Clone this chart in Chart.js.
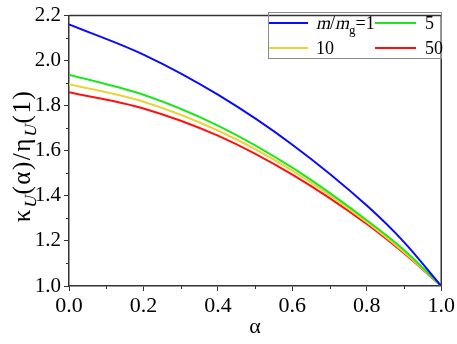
<!DOCTYPE html>
<html><head><meta charset="utf-8">
<script src="https://cdn.jsdelivr.net/npm/chart.js@4/dist/chart.umd.min.js"></script>
<style>html,body{margin:0;padding:0;background:#fff}canvas{display:block}</style>
</head><body>
<canvas id="c" width="457" height="344"></canvas>
<script>
const alphaValues = [0, 0.2, 0.4, 0.6, 0.8, 0.9, 1.0];
const seriesLabels = ['1', '5', '10', '50'];
const seriesColors = ['#0a0aff', '#1ee61e', '#ecd334', '#ff1010'];
const mOne  = [2.161, 2.027, 1.849, 1.627, 1.357, 1.195, 1.0];
const mFive = [1.938, 1.849, 1.712, 1.525, 1.292, 1.160, 1.0];
const mTen  = [1.896, 1.818, 1.690, 1.512, 1.283, 1.150, 1.0];
const mFifty= [1.860, 1.788, 1.667, 1.494, 1.275, 1.145, 1.0];
const xTicks = [0, 0.2, 0.4, 0.6, 0.8, 1.0];
const yTicks = [1.0, 1.2, 1.4, 1.6, 1.8, 2.0, 2.2];
const xMinor = [0.1, 0.3, 0.5, 0.7, 0.9];
const yMinor = [1.1, 1.3, 1.5, 1.7, 1.9, 2.1];

const allSeries = [mOne, mFive, mTen, mFifty];
const SERIF = '"Liberation Serif"';
const AXIS = '#333';

const datasets = allSeries.map((s, i) => ({
  label: seriesLabels[i],
  data: alphaValues.map((a, j) => ({x: a, y: s[j]})),
  borderColor: seriesColors[i],
  backgroundColor: seriesColors[i],
  borderWidth: 2,
  pointRadius: 0,
  cubicInterpolationMode: 'monotone',
  fill: false
}));

// draws runs of text; slanted runs are skewed to look italic
function drawRich(ctx, parts, x, y) {
  let cx = x;
  for (const p of parts) {
    ctx.font = p.font;
    const yy = y + (p.dy || 0);
    if (p.slant) {
      ctx.save();
      ctx.translate(cx, yy);
      ctx.transform(1, 0, -0.22, 1, 0, 0);
      ctx.fillText(p.t, 0, 0);
      ctx.restore();
    } else {
      ctx.fillText(p.t, cx, yy);
    }
    cx += ctx.measureText(p.t).width + (p.gap || 0);
  }
  return cx;
}
function richWidth(ctx, parts) {
  let w = 0;
  for (const p of parts) { ctx.font = p.font; w += ctx.measureText(p.t).width + (p.gap || 0); }
  return w;
}

const decor = {
  id: 'decor',
  afterDraw(chart) {
    const ctx = chart.ctx;
    const a = chart.chartArea;
    const xs = chart.scales.x, ys = chart.scales.y;
    ctx.save();
    ctx.strokeStyle = AXIS; ctx.lineWidth = 1.5;
    ctx.beginPath();
    ctx.moveTo(a.left, a.top); ctx.lineTo(a.right, a.top); ctx.lineTo(a.right, a.bottom);
    ctx.stroke();
    ctx.lineWidth = 1;
    ctx.beginPath();
    for (const v of xMinor) { const px = Math.round(xs.getPixelForValue(v)) + 0.5; ctx.moveTo(px, a.bottom); ctx.lineTo(px, a.bottom + 3); }
    for (const v of yMinor) { const py = Math.round(ys.getPixelForValue(v)) + 0.5; ctx.moveTo(a.left, py); ctx.lineTo(a.left - 3, py); }
    ctx.stroke();
    // legend
    ctx.strokeStyle = '#8a8a8a'; ctx.lineWidth = 1;
    ctx.strokeRect(268.5, 12.5, 173, 46);
    const rows = [23, 48];
    const cols = [[269, 308, 316], [375, 416, 425]];
    ctx.textAlign = 'left';
    ctx.textBaseline = 'alphabetic';
    chart.data.datasets.forEach((ds, i) => {
      const r = rows[Math.floor(i / 2)], c = cols[i % 2];
      ctx.strokeStyle = ds.borderColor; ctx.lineWidth = 2;
      ctx.beginPath(); ctx.moveTo(c[0], r); ctx.lineTo(c[1], r); ctx.stroke();
      ctx.fillStyle = '#000';
      const f = '18px ' + SERIF, fs = '13px ' + SERIF;
      const parts = i === 0
        ? [{t:'m', font: f, slant: true}, {t:'/', font: f}, {t:'m', font: f, slant: true}, {t:'g', font: fs, dy: 5}, {t:'=' + ds.label, font: f}]
        : [{t: ds.label, font: f}];
      drawRich(ctx, parts, c[2], r + 6);
    });
    // axis titles
    ctx.fillStyle = '#000';
    ctx.font = '22px ' + SERIF;
    ctx.textAlign = 'center';
    ctx.fillText('α', (a.left + a.right) / 2, 333);
    ctx.textAlign = 'left';
    const big = '25px ' + SERIF, sub = '17px ' + SERIF;
    const g = 1.5;
    const yparts = [{t:'κ', font: big, gap: g}, {t:'U', font: sub, dy: 6, gap: g, slant: true}, {t:'(', font: big, gap: g}, {t:'α', font: big, gap: g}, {t:')', font: big, gap: g}, {t:'/', font: big, gap: g}, {t:'η', font: big, gap: g}, {t:'U', font: sub, dy: 6, gap: g, slant: true}, {t:'(', font: big, gap: g}, {t:'1', font: big, gap: g}, {t:')', font: big}];
    ctx.translate(30, (a.top + a.bottom) / 2 + 6);
    ctx.rotate(-Math.PI / 2);
    const w = richWidth(ctx, yparts);
    drawRich(ctx, yparts, -w / 2, 0);
    ctx.setTransform(1, 0, 0, 1, 0, 0);
    ctx.restore();
  }
};

new Chart(document.getElementById('c'), {
  type: 'line',
  data: { datasets },
  options: {
    responsive: false,
    animation: false,
    devicePixelRatio: 1,
    layout: { padding: { top: 10, right: 14, left: 0, bottom: 0 } },
    plugins: { legend: { display: false }, tooltip: { enabled: false } },
    scales: {
      x: {
        type: 'linear', min: 0, max: 1,
        afterFit(s) { s.height = 58; },
        afterBuildTicks(s) { s.ticks = xTicks.map(v => ({value: v})); },
        ticks: { color: '#000', font: { family: SERIF, size: 22 }, padding: 2, maxRotation: 0,
          callback: v => v.toFixed(1) },
        grid: { drawOnChartArea: false, tickLength: 5, color: AXIS, lineWidth: 1 },
        border: { color: AXIS, width: 1.5 }
      },
      y: {
        type: 'linear', min: 1.0, max: 2.2,
        afterFit(s) { s.width = 69; },
        afterBuildTicks(s) { s.ticks = yTicks.map(v => ({value: v})); },
        ticks: { color: '#000', font: { family: SERIF, size: 21 }, padding: 3,
          callback: v => v.toFixed(1) },
        grid: { drawOnChartArea: false, tickLength: 5, color: AXIS, lineWidth: 1 },
        border: { color: AXIS, width: 1.5 }
      }
    }
  },
  plugins: [decor]
});
</script>
</body></html>
